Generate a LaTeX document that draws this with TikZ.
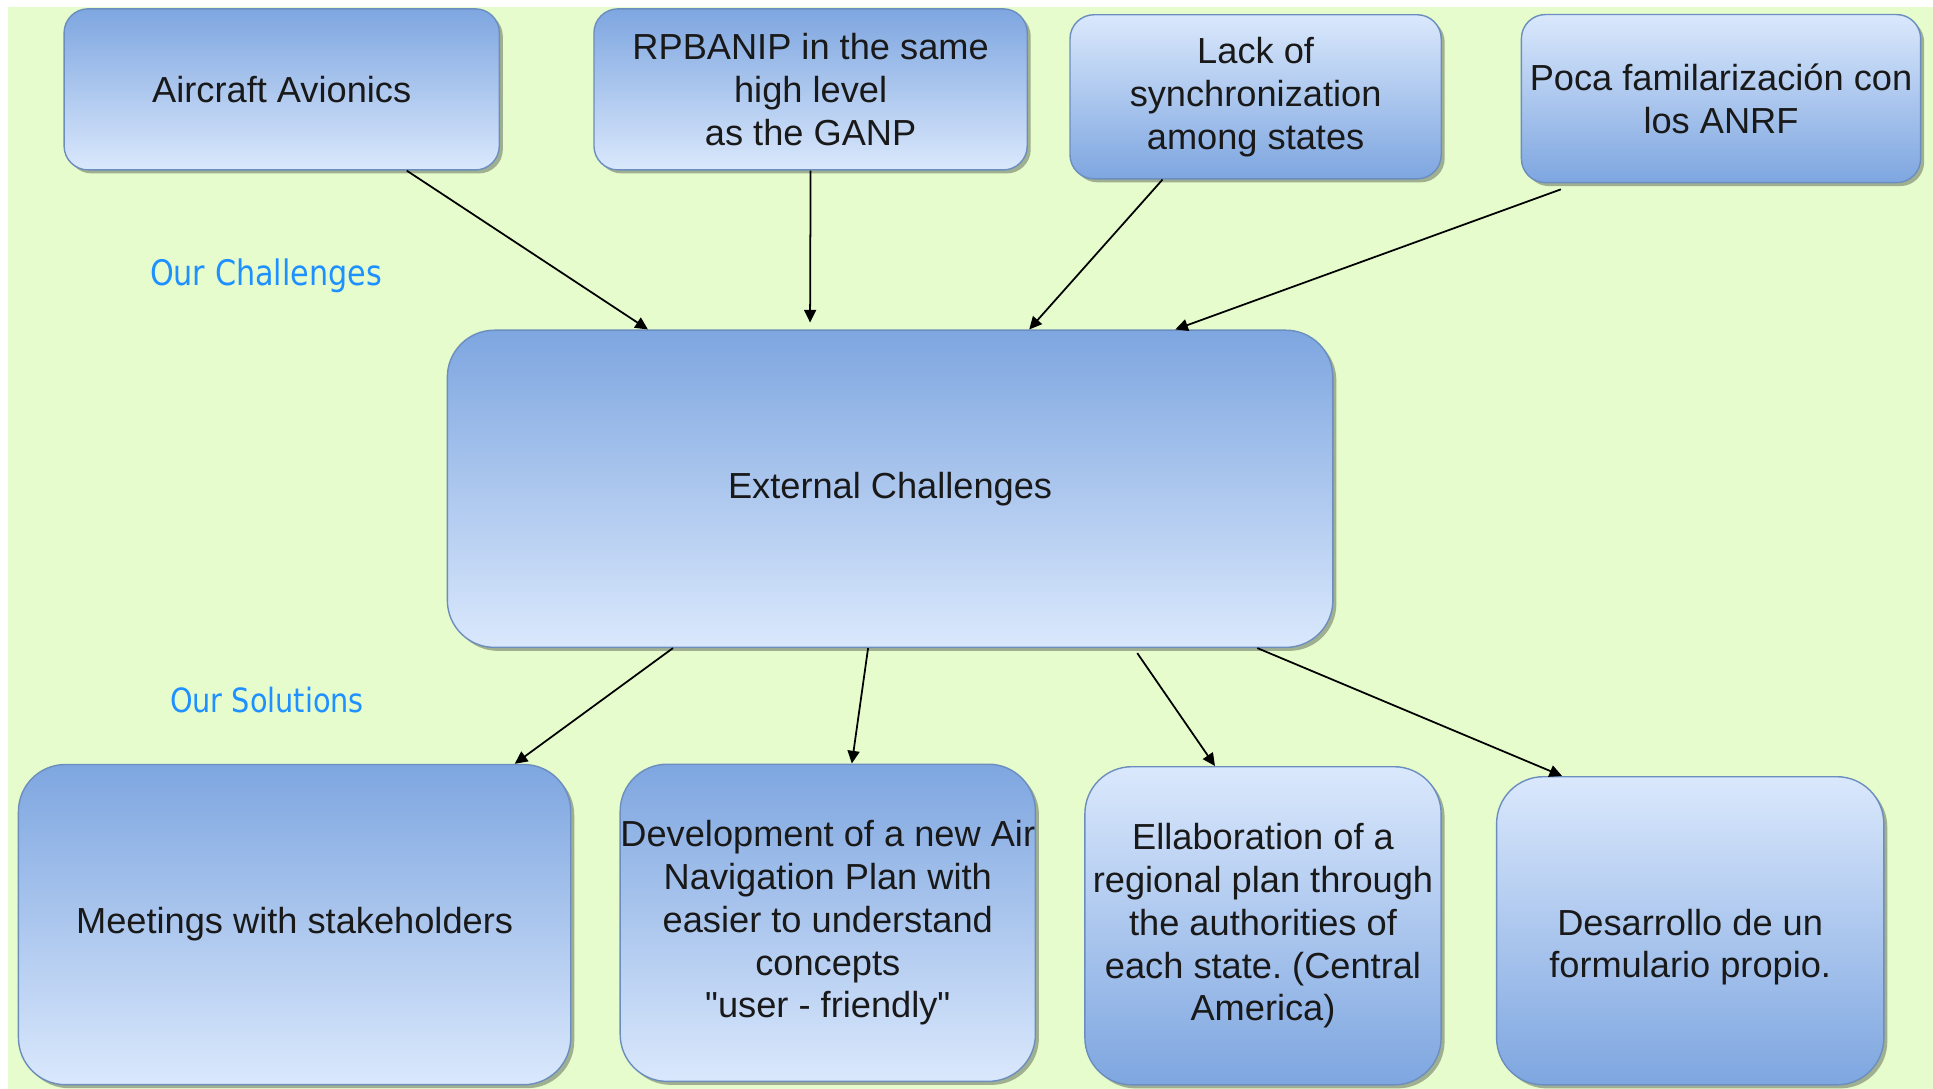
\documentclass[tikz,border=0pt]{standalone}
\usepackage{fontspec}
\setmainfont{Liberation Sans}[Ligatures=TeXOff]
\newfontfamily\tagfont{DejaVu Sans}[FakeStretch=0.86]
\usetikzlibrary{arrows.meta,shadows}
\frenchspacing

\definecolor{bggreen}{RGB}{230,252,205}
\definecolor{boxdark}{RGB}{126,166,224}
\definecolor{boxlight}{RGB}{218,232,252}
\definecolor{boxline}{RGB}{108,142,191}
\definecolor{tagblue}{RGB}{30,144,255}

\begin{document}
\begin{tikzpicture}[x=0.01cm, y=-0.01cm,
		box/.style={draw=boxline, line width=0.4pt, rounded corners=0.24cm, align=center, inner sep=0pt,
			font=\fontsize{10.3}{12.2}\selectfont, text=black!90,
			drop shadow={shadow xshift=0.035cm, shadow yshift=-0.035cm, opacity=0.3, fill=black}},
		bigbox/.style={box, rounded corners=0.47cm},
		darktop/.style={top color=boxdark, bottom color=boxlight},
		lighttop/.style={top color=boxlight, bottom color=boxdark},
		arr/.style={-{Triangle[length=3.6pt, width=3.4pt]}, black, line width=0.5pt},
		tag/.style={text=tagblue, font=\tagfont\fontsize{10}{12}\selectfont}]
		\fill[white] (0,0) rectangle (1933,1089);
		\fill[bggreen] (8,7) rectangle (1933,1089);

		% challenges
		\node[box, darktop, minimum width=4.35cm, minimum height=1.61cm] (air) at (281.7,89.4) {Aircraft Avionics};
		\node[box, darktop, minimum width=4.33cm, minimum height=1.61cm] (rpb) at (810.6,89.4) {RPBANIP in the same\\high level\\as the GANP};
		\node[box, lighttop, minimum width=3.71cm, minimum height=1.64cm] (lack) at (1255.6,96.8) {Lack of\\synchronization\\among states};
		\node[box, lighttop, minimum width=3.99cm, minimum height=1.68cm] (poca) at (1721,98.6) {Poca familarización con\\los ANRF};

		\node[tag] (ourch) at (266,276) {Our Challenges};

		\node[bigbox, darktop, minimum width=8.85cm, minimum height=3.17cm] (ext) at (890.1,488.8) {External Challenges};

		\node[tag, font=\tagfont\fontsize{9.5}{11}\selectfont] (oursol) at (267,700) {Our Solutions};

		% solutions
		\node[bigbox, darktop, minimum width=5.52cm, minimum height=3.2cm] (meet) at (294.6,924.6) {Meetings with stakeholders};
		\node[bigbox, darktop, minimum width=4.15cm, minimum height=3.17cm] (dev) at (827.8,922.8) {Development of a new Air\\Navigation Plan with\\easier to understand\\concepts\\"user - friendly"};
		\node[bigbox, lighttop, minimum width=3.56cm, minimum height=3.18cm] (ell) at (1263,925.8) {Ellaboration of a\\regional plan through\\the authorities of\\each state. (Central\\America)};
		\node[bigbox, lighttop, minimum width=3.87cm, minimum height=3.08cm] (des) at (1690.2,930.8) {{}\\[0.16cm]Desarrollo de un\\formulario propio.};

		\draw[arr] ([xshift=1.25cm]air.south) -- ([xshift=-2.42cm]ext.north);
		\draw[arr] (rpb.south) -- ([xshift=-0.8cm, yshift=0.07cm]ext.north);
		\draw[arr] ([xshift=-0.93cm]lack.south) -- ([xshift=1.39cm]ext.north);
		\draw[arr] ([xshift=-1.6cm, yshift=-0.06cm]poca.south) -- ([xshift=2.85cm]ext.north);

		\draw[arr] ([xshift=-2.17cm]ext.south) -- ([xshift=2.2cm]meet.north);
		\draw[arr] ([xshift=-0.22cm]ext.south) -- ([xshift=0.24cm]dev.north);
		\draw[arr] ([xshift=2.47cm, yshift=-0.05cm]ext.south) -- ([xshift=-0.48cm]ell.north);
		\draw[arr] ([xshift=3.67cm]ext.south) -- ([xshift=-1.28cm]des.north);
	\end{tikzpicture}
\end{document}
